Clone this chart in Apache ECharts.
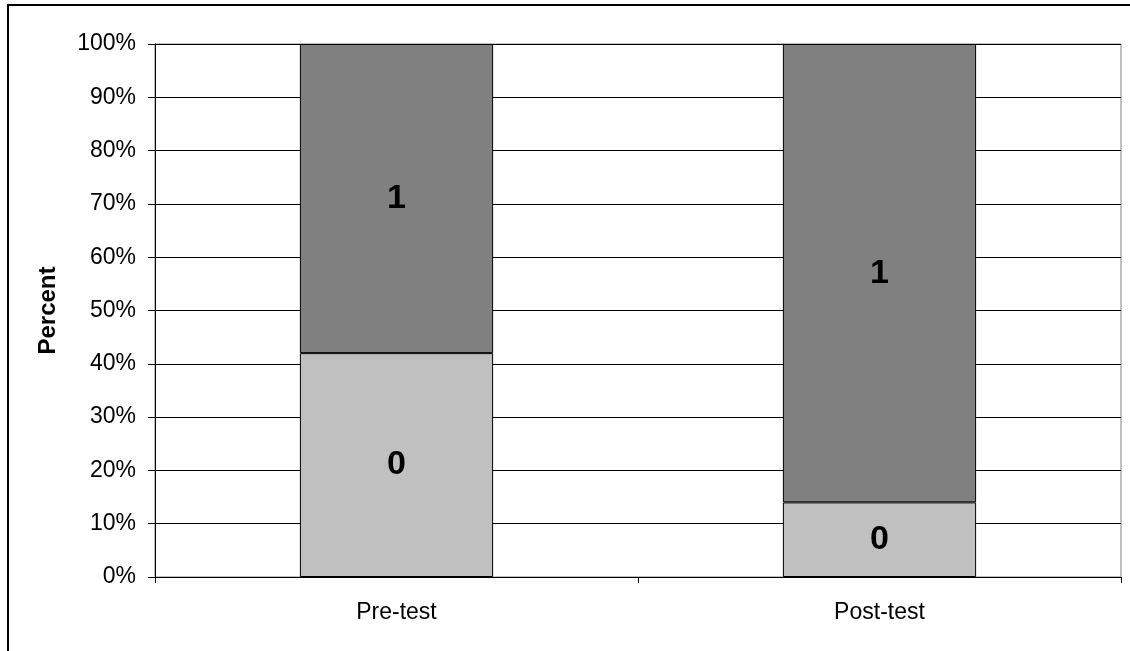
<!DOCTYPE html>
<html>
<head>
<meta charset="utf-8">
<script src="https://cdn.jsdelivr.net/npm/echarts@6/dist/echarts.min.js"></script>
<style>
html,body{margin:0;padding:0;background:#fff;}
#c{width:1130px;height:651px;}
</style>
</head>
<body>
<div id="c"></div>
<script>
const categories = ['Pre-test', 'Post-test'];
const series0 = [42, 14];
const series1 = [58, 86];
const yTicks = ['0%','10%','20%','30%','40%','50%','60%','70%','80%','90%','100%'];

const chart = echarts.init(document.getElementById('c'), null, {renderer: 'canvas'});
const font = 'Arial, "Liberation Sans", sans-serif';
const labelStyle = {
  show: true,
  position: 'inside',
  color: '#000',
  fontFamily: font,
  fontWeight: 'bold',
  fontSize: 34
};
chart.setOption({
  animation: false,
  graphic: [{
    type: 'rect',
    shape: {x: 8, y: 5, width: 1140, height: 660},
    style: {fill: 'none', stroke: '#000', lineWidth: 2},
    silent: true,
    z: 100
  }],
  grid: {
    left: 155, top: 44, right: 9, bottom: 74,
    show: true, borderColor: '#808080', borderWidth: 1, backgroundColor: '#fff'
  },
  xAxis: {
    type: 'category',
    data: categories,
    axisLine: {lineStyle: {color: '#000', width: 1}},
    axisTick: {show: true, length: 6, lineStyle: {color: '#000'}},
    axisLabel: {color: '#000', fontFamily: font, fontSize: 23, margin: 24}
  },
  yAxis: {
    type: 'value',
    min: 0, max: 100, interval: 10,
    name: 'Percent',
    nameLocation: 'middle',
    nameGap: 95,
    nameRotate: 90,
    nameTextStyle: {color: '#000', fontFamily: font, fontWeight: 'bold', fontSize: 24},
    axisLine: {show: true, lineStyle: {color: '#000', width: 1}},
    axisTick: {show: true, length: 7, lineStyle: {color: '#000'}},
    axisLabel: {
      color: '#000', fontFamily: font, fontSize: 23, margin: 19,
      formatter: function (v) { return yTicks[Math.round(v / 10)]; }
    },
    splitLine: {show: true, lineStyle: {color: '#000', width: 1}}
  },
  series: [
    {
      name: '0', type: 'bar', stack: 's', data: series0, barWidth: '40%',
      itemStyle: {color: '#C0C0C0', borderColor: '#000', borderWidth: 1},
      label: Object.assign({}, labelStyle, {formatter: '0'})
    },
    {
      name: '1', type: 'bar', stack: 's', data: series1, barWidth: '40%',
      itemStyle: {color: '#808080', borderColor: '#000', borderWidth: 1},
      label: Object.assign({}, labelStyle, {formatter: '1'})
    }
  ]
});
</script>
</body>
</html>
